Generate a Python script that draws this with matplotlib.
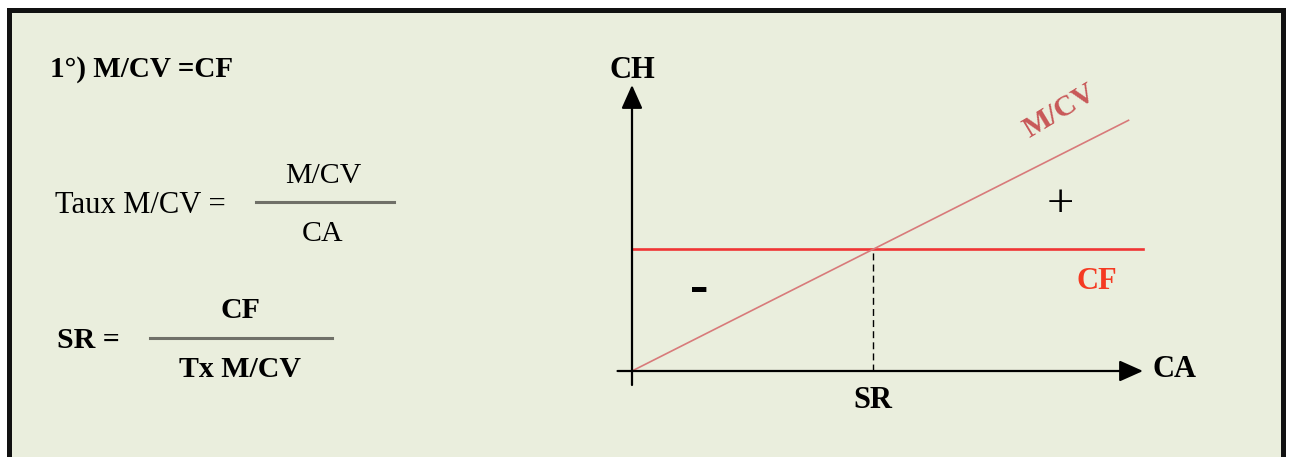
import matplotlib.pyplot as plt
from matplotlib.patches import Rectangle

plt.rcParams['font.family'] = ['Liberation Serif', 'DejaVu Serif']

# données du schéma (seuil de rentabilité)
taux_mcv = 0.4          # taux de marge sur coûts variables
cf = 40                 # charges fixes
ca_max = 212            # longueur de l'axe CA
ca_mcv_fin = 206        # fin de la droite M/CV
ch_max = 94             # hauteur de l'axe CH
sr = cf / taux_mcv      # seuil de rentabilité

ca_mcv = [0, ca_mcv_fin]
ch_mcv = [taux_mcv * x for x in ca_mcv]
ca_cf = [0, ca_max]
ch_cf = [cf, cf]

W, H = 1289, 457
fig = plt.figure(figsize=(W / 100, H / 100), dpi=100)
fig.patch.set_facecolor('white')

# fond + cadre, en pixels
bg = fig.add_axes([0, 0, 1, 1])
bg.set_xlim(0, W)
bg.set_ylim(H, 0)
bg.axis('off')
bg.add_patch(Rectangle((9, 10), 1274, 480, facecolor='#eaeedd',
                       edgecolor='#111111', lw=3.6))

# formules à gauche
bg.text(50, 77, '1°) M/CV =CF', fontsize=21, fontweight='bold', va='baseline')
bg.text(55, 213, 'Taux M/CV =', fontsize=22, va='baseline')
bg.text(323, 183, 'M/CV', fontsize=21.5, ha='center', va='baseline')
bg.plot([256, 394], [202, 202], color='#707068', lw=2.2)
bg.text(323, 241, 'CA', fontsize=21.5, ha='center', va='baseline')

bg.text(57, 348, 'SR =', fontsize=21.5, fontweight='bold', va='baseline')
bg.text(240, 318, 'CF', fontsize=21.5, fontweight='bold', ha='center', va='baseline')
bg.plot([150, 332], [338, 338], color='#707068', lw=2.2)
bg.text(240, 377, 'Tx M/CV', fontsize=21.5, fontweight='bold', ha='center', va='baseline')

# graphique
ax = fig.add_axes([632 / W, (H - 371) / H, 511 / W, 286 / H])
ax.set_xlim(0, ca_max)
ax.set_ylim(0, ch_max)
ax.axis('off')

arrow = dict(arrowstyle='-|>,head_length=0.85,head_width=0.38', mutation_scale=17,
             color='black', lw=1.6, shrinkA=0, shrinkB=0)
ax.annotate('', xy=(ca_max, 0), xytext=(-6, 0), arrowprops=arrow, annotation_clip=False)
ax.annotate('', xy=(0, ch_max), xytext=(0, -4.6), arrowprops=arrow, annotation_clip=False)

ax.plot(ca_cf, ch_cf, color='#f03434', lw=1.9, clip_on=False)
ax.plot(ca_mcv, ch_mcv, color='#d87a7a', lw=1.2, clip_on=False)
ax.plot([sr, sr], [0, cf], color='black', lw=1.0, ls=(0, (5, 3)))

ax.text(0, 96.4, 'CH', fontsize=22, fontweight='bold', ha='center', va='baseline')
ax.text(215.8, -2.0, 'CA', fontsize=22, fontweight='bold', va='baseline')
ax.text(sr, -12.1, 'SR', fontsize=22, fontweight='bold', ha='center', va='baseline')
ax.text(184.6, 26.9, 'CF', fontsize=22, fontweight='bold', color='#f53a22', va='baseline')
ax.text(177.5, 85.5, 'M/CV', fontsize=21.5, fontweight='bold', color='#c85858',
        ha='center', va='center', rotation=31, rotation_mode='anchor')
ax.text(177.6, 54.4, '+', fontsize=35, ha='center', va='center')
ax.text(27.8, 26.9, '-', fontsize=40, fontweight='bold', ha='center', va='center')

fig.savefig('out.png', dpi=100, facecolor='white')
